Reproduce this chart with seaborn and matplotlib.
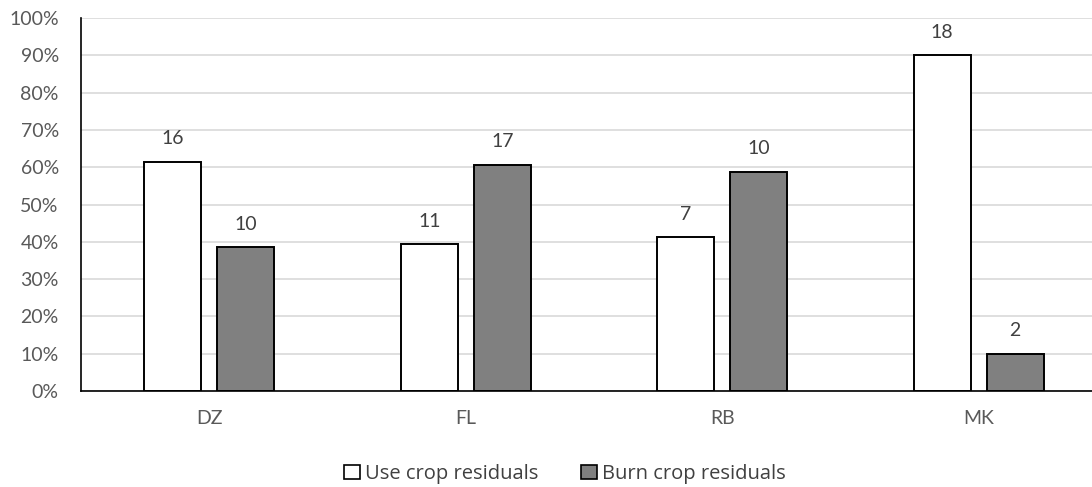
import matplotlib
matplotlib.use("Agg")
import matplotlib.pyplot as plt
import seaborn as sns
import pandas as pd
from matplotlib.patches import Patch
from matplotlib.ticker import PercentFormatter

categories = ["DZ", "FL", "RB", "MK"]
series_names = ["Use crop residuals", "Burn crop residuals"]
use_pct = [61.5, 39.3, 41.2, 90.0]
burn_pct = [38.5, 60.7, 58.8, 10.0]
use_counts = [16, 11, 7, 18]
burn_counts = [10, 17, 10, 2]
yticks = [0, 10, 20, 30, 40, 50, 60, 70, 80, 90, 100]

df = pd.DataFrame({
    "cat": categories * 2,
    "series": [series_names[0]] * 4 + [series_names[1]] * 4,
    "pct": use_pct + burn_pct,
    "count": use_counts + burn_counts,
})

sns.set_theme(style="white")
plt.rcParams["font.family"] = ["Lato", "DejaVu Sans"]
txt = "#595959"
fs = 14

fig = plt.figure(figsize=(10.92, 4.87), dpi=100)
ax = fig.add_axes([81 / 1092, 96 / 487, 1026 / 1092, 373 / 487])

palette = {series_names[0]: "#ffffff", series_names[1]: "#808080"}
sns.barplot(data=df, x="cat", y="pct", hue="series", order=categories,
            hue_order=series_names, palette=palette, width=0.569, gap=0.22,
            edgecolor="black", linewidth=1.4, ax=ax, legend=False, saturation=1)

for container, counts in zip(ax.containers, [use_counts, burn_counts]):
    ax.bar_label(container, labels=[str(c) for c in counts], padding=10.5,
                 fontsize=fs, color="#404040")

ax.set_xlim(-0.5, 3.5)
ax.set_ylim(0, 100)
ax.set_yticks(yticks)
ax.yaxis.set_major_formatter(PercentFormatter(decimals=0))
ax.grid(axis="y", color="#d9d9d9", linewidth=1.2)
ax.set_axisbelow(True)
ax.set_xlabel("")
ax.set_ylabel("")
for s in ["top", "right"]:
    ax.spines[s].set_visible(False)
ax.spines["left"].set_color("black")
ax.spines["left"].set_linewidth(1.2)
ax.spines["bottom"].set_color("black")
ax.spines["bottom"].set_linewidth(1.2)
ax.tick_params(axis="y", length=0, pad=16, labelsize=fs, labelcolor=txt)
ax.tick_params(axis="x", length=0, pad=14, labelsize=fs, labelcolor=txt)

handles = [Patch(facecolor=palette[n], edgecolor="black", linewidth=1.2) for n in series_names]
leg = fig.legend(handles, series_names, loc="center", bbox_to_anchor=(565 / 1092, 1 - 474 / 487),
                 ncol=2, frameon=False, handlelength=0.8, handleheight=0.75,
                 handletextpad=0.25, columnspacing=2.1, borderpad=0, borderaxespad=0,
                 prop={"family": ["Open Sans", "DejaVu Sans"], "size": 14.5})
for t in leg.get_texts():
    t.set_color("#404040")

fig.savefig("out.png", dpi=100)
